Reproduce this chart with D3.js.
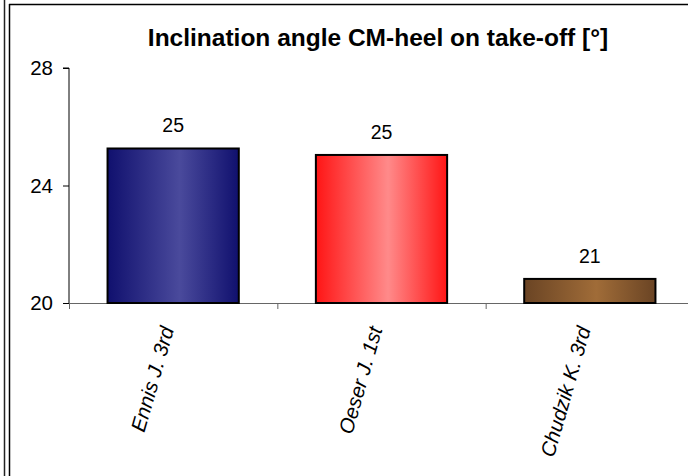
<!DOCTYPE html>
<html><head><meta charset="utf-8">
<script src="https://cdn.jsdelivr.net/npm/d3@7"></script>
<style>body{margin:0;background:#fff}svg{display:block}</style>
</head><body>
<script>
const categories = ["Ennis J. 3rd", "Oeser J. 1st", "Chudzik K. 3rd"];
const values = [25.26, 25.04, 20.82];
const valueLabels = ["25", "25", "21"];
const yTicks = [20, 24, 28];
const title = "Inclination angle CM-heel on take-off [°]";
const gradients = [
  ["#10106e", "#4a4a9c", "#10106e"],
  ["#ff1515", "#ff8a8a", "#ff1515"],
  ["#6a4424", "#a06c38", "#6a4424"]
];

const W = 688, H = 476;
const FONT = "'Liberation Sans', Arial, sans-serif";
const svg = d3.select("body").append("svg").attr("width", W).attr("height", H)
  .style("font-family", FONT);

// frame
svg.append("line").attr("x1",4.5).attr("x2",4.5).attr("y1",0).attr("y2",H).attr("stroke","#222").attr("stroke-width",1.5);
svg.append("line").attr("x1",9.5).attr("x2",9.5).attr("y1",4).attr("y2",H).attr("stroke","#000").attr("stroke-width",1.5);
svg.append("line").attr("x1",9).attr("x2",W).attr("y1",4.5).attr("y2",4.5).attr("stroke","#000").attr("stroke-width",1.5);

const defs = svg.append("defs");
gradients.forEach((g,i)=>{
  const lg = defs.append("linearGradient").attr("id","g"+i).attr("x1","0%").attr("x2","100%").attr("y1","0%").attr("y2","0%");
  lg.append("stop").attr("offset","0%").attr("stop-color",g[0]);
  lg.append("stop").attr("offset","55%").attr("stop-color",g[1]);
  lg.append("stop").attr("offset","100%").attr("stop-color",g[2]);
});

const x0 = 69, x1 = 694, yTop = 68, yBot = 303;
const x = d3.scaleBand().domain(categories).range([x0, x1]).paddingInner(0.37).paddingOuter(0.185);
const y = d3.scaleLinear().domain([20, 28]).range([yBot, yTop]);

svg.append("text").attr("x", 378).attr("y", 46).attr("text-anchor","middle")
  .attr("font-weight","bold").attr("font-size", 24.5).text(title);

// y axis
const ya = svg.append("g").attr("transform", `translate(${x0},0)`)
  .call(d3.axisLeft(y).tickValues(yTicks).tickSize(6).tickPadding(10).tickFormat(d3.format("d")));
ya.select(".domain").attr("stroke","#000").attr("d", `M-6,${yTop}H0V${yBot}`);
ya.selectAll("text").attr("font-size", 20.5).attr("fill","#000").attr("font-family", FONT);
ya.selectAll("line").attr("stroke","#000");

// x axis
const xTickPos = d3.range(categories.length+1).map(i => x0 + i * x.step());
const xa = svg.append("g");
xa.append("line").attr("x1", x0).attr("x2", W).attr("y1", yBot+0.5).attr("y2", yBot+0.5).attr("stroke","#666");
xa.selectAll("line.t").data(xTickPos).join("line").attr("class","t")
  .attr("x1", d=>d+0.5).attr("x2", d=>d+0.5).attr("y1", yBot).attr("y2", yBot+6).attr("stroke","#666");

// bars
svg.selectAll("rect.bar").data(values).join("rect").attr("class","bar")
  .attr("x", (d,i)=>x(categories[i]))
  .attr("y", d=>y(d))
  .attr("width", x.bandwidth())
  .attr("height", d=>yBot - y(d))
  .attr("fill", (d,i)=>`url(#g${i})`)
  .attr("stroke","#000").attr("stroke-width",2);

// value labels
svg.selectAll("text.val").data(values).join("text").attr("class","val")
  .attr("x", (d,i)=>x(categories[i]) + x.bandwidth()/2)
  .attr("y", d=>y(d) - 16)
  .attr("text-anchor","middle").attr("font-size",19.5).text((d,i)=>valueLabels[i]);

// category labels
svg.selectAll("text.cat").data(categories).join("text").attr("class","cat")
  .attr("transform", d=>`translate(${x(d)+x.bandwidth()/2+1},${yBot+26}) rotate(-74)`)
  .attr("text-anchor","end").attr("font-size",20.5).attr("font-style","italic").text(d=>d);
</script>
</body></html>
